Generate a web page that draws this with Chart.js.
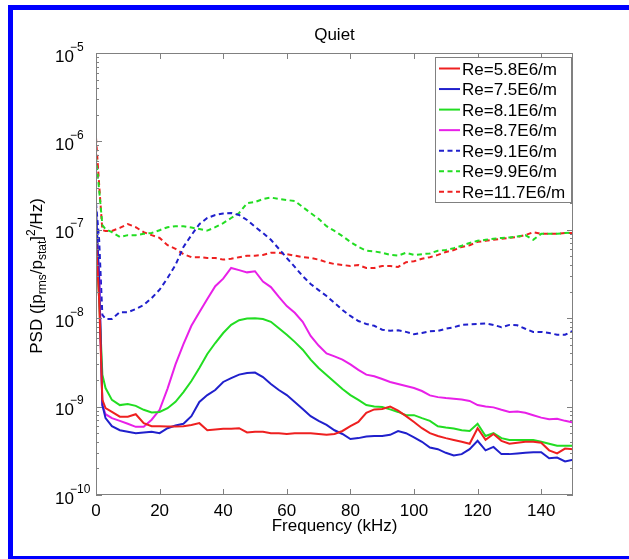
<!DOCTYPE html>
<html>
<head>
<meta charset="utf-8">
<script src="https://cdn.jsdelivr.net/npm/chart.js@4/dist/chart.umd.min.js"></script>
<style>
  html, body { margin: 0; padding: 0; background: #fff; overflow: hidden; }
  #wrap { position: relative; width: 629px; height: 559px; }
  #psd { position: absolute; left: 0; top: 0; }
  #frame {
    position: absolute; left: 8px; top: 5px; width: 700px; height: 546px;
    border-left: 5px solid #0000ff; border-top: 5px solid #0000ff; border-bottom: 3px solid #0000ff;
  }
</style>
</head>
<body>
<div id="wrap">
  <canvas id="psd" width="629" height="559"></canvas>
  <div id="frame"></div>
</div>
<script>
// frequency bins (kHz)
const freqs = [
  0, 1, 2, 3, 5, 7.5, 10, 12.5, 15, 17.5,
  20, 22.5, 25, 27.5, 30, 32.5, 35, 37.5, 40, 42.5,
  45, 47.5, 50, 52.5, 55, 57.5, 60, 62.5, 65, 67.5,
  70, 72.5, 75, 77.5, 80, 82.5, 85, 87.5, 90, 92.5,
  95, 97.5, 100, 102.5, 105, 107.5, 110, 112.5, 115, 117.5,
  120, 122.5, 125, 127.5, 130, 132.5, 135, 137.5, 140, 142.5,
  145, 147.5, 150
];

// PSD, ([p_rms/p_stat]^2/Hz)
const re58 = [
  7.7e-8, 1.6e-8, 1.19e-9, 9.6e-10, 8.7e-10, 7.7e-10, 7.7e-10, 8.2e-10, 6.5e-10, 6.0e-10,
  6.0e-10, 5.95e-10, 5.95e-10, 6.0e-10, 6.2e-10, 6.5e-10, 5.4e-10, 5.5e-10, 5.6e-10, 5.6e-10,
  5.7e-10, 5.1e-10, 5.2e-10, 5.2e-10, 5.0e-10, 5.0e-10, 4.9e-10, 5.0e-10, 5.0e-10, 5.0e-10,
  4.9e-10, 4.8e-10, 4.9e-10, 5.3e-10, 6.0e-10, 6.7e-10, 8.5e-10, 9.3e-10, 9.4e-10, 1.0e-9,
  9.0e-10, 7.8e-10, 6.7e-10, 5.7e-10, 5.0e-10, 4.65e-10, 4.4e-10, 4.2e-10, 4.0e-10, 3.8e-10,
  5.7e-10, 4.2e-10, 4.9e-10, 4.1e-10, 3.8e-10, 3.9e-10, 4.0e-10, 4.0e-10, 3.9e-10, 3.2e-10,
  2.95e-10, 3.35e-10, 3.3e-10
];
const re75 = [
  1.8e-7, 2.7e-8, 1.04e-9, 7.4e-10, 6.0e-10, 5.4e-10, 5.2e-10, 5.0e-10, 5.1e-10, 5.2e-10,
  5.0e-10, 5.7e-10, 6.1e-10, 6.4e-10, 7.8e-10, 1.13e-9, 1.35e-9, 1.54e-9, 1.9e-9, 2.1e-9,
  2.3e-9, 2.4e-9, 2.43e-9, 2.16e-9, 1.8e-9, 1.54e-9, 1.35e-9, 1.13e-9, 9.4e-10, 7.8e-10,
  6.9e-10, 6.2e-10, 5.4e-10, 4.9e-10, 4.3e-10, 4.4e-10, 4.6e-10, 4.65e-10, 4.65e-10, 4.8e-10,
  5.3e-10, 5.0e-10, 4.5e-10, 4.0e-10, 3.45e-10, 3.3e-10, 3.0e-10, 2.8e-10, 2.9e-10, 3.3e-10,
  4.1e-10, 3.2e-10, 3.5e-10, 2.9e-10, 2.9e-10, 2.95e-10, 3.0e-10, 3.05e-10, 3.05e-10, 2.6e-10,
  2.65e-10, 2.4e-10, 2.5e-10
];
const re81 = [
  8.0e-8, 1.6e-8, 2.3e-9, 1.62e-9, 1.19e-9, 1.04e-9, 1.07e-9, 1.02e-9, 9.2e-10, 8.6e-10,
  8.7e-10, 9.6e-10, 1.13e-9, 1.46e-9, 1.95e-9, 2.73e-9, 3.94e-9, 5.24e-9, 6.8e-9, 8.4e-9,
  9.5e-9, 9.9e-9, 1.0e-8, 9.8e-9, 9.1e-9, 7.7e-9, 6.5e-9, 5.4e-9, 4.4e-9, 3.4e-9,
  2.73e-9, 2.28e-9, 1.9e-9, 1.58e-9, 1.35e-9, 1.19e-9, 1.04e-9, 1.0e-9, 9.9e-10, 9.3e-10,
  8.7e-10, 8.0e-10, 8.0e-10, 7.4e-10, 6.9e-10, 6.0e-10, 5.8e-10, 5.65e-10, 5.4e-10, 5.3e-10,
  6.4e-10, 4.65e-10, 5.0e-10, 4.4e-10, 4.2e-10, 4.2e-10, 4.2e-10, 4.2e-10, 4.0e-10, 3.8e-10,
  3.6e-10, 3.6e-10, 3.6e-10
];
const re87 = [
  1.0e-7, 3.0e-8, 1.04e-9, 8.2e-10, 7.4e-10, 6.9e-10, 6.4e-10, 5.9e-10, 5.9e-10, 7.1e-10,
  9.2e-10, 1.6e-9, 3.0e-9, 5.1e-9, 8.2e-9, 1.17e-8, 1.65e-8, 2.3e-8, 2.8e-8, 3.7e-8,
  3.5e-8, 3.3e-8, 3.4e-8, 2.6e-8, 2.25e-8, 1.74e-8, 1.37e-8, 1.15e-8, 9.1e-9, 6.3e-9,
  4.9e-9, 4.0e-9, 3.7e-9, 3.4e-9, 3.0e-9, 2.6e-9, 2.3e-9, 2.2e-9, 2.05e-9, 1.9e-9,
  1.8e-9, 1.71e-9, 1.62e-9, 1.5e-9, 1.34e-9, 1.28e-9, 1.25e-9, 1.23e-9, 1.2e-9, 1.16e-9,
  1.04e-9, 1.0e-9, 9.8e-10, 9.2e-10, 8.7e-10, 8.8e-10, 8.5e-10, 8.0e-10, 7.5e-10, 7.2e-10,
  7.3e-10, 6.9e-10, 6.6e-10
];
const re91 = [
  2.0e-7, 7.6e-8, 1.09e-8, 9.8e-9, 9.8e-9, 1.17e-8, 1.17e-8, 1.27e-8, 1.41e-8, 1.69e-8,
  2.1e-8, 2.85e-8, 4.0e-8, 6.4e-8, 8.7e-8, 1.16e-7, 1.36e-7, 1.47e-7, 1.53e-7, 1.55e-7,
  1.47e-7, 1.29e-7, 1.08e-7, 9.2e-8, 7.7e-8, 6.1e-8, 4.8e-8, 3.8e-8, 3.0e-8, 2.44e-8,
  2.08e-8, 1.78e-8, 1.49e-8, 1.24e-8, 1.06e-8, 9.3e-9, 8.6e-9, 8.2e-9, 7.4e-9, 7.2e-9,
  7.3e-9, 7.0e-9, 6.6e-9, 6.8e-9, 7.1e-9, 7.2e-9, 7.6e-9, 7.9e-9, 8.4e-9, 8.5e-9,
  8.6e-9, 8.7e-9, 8.4e-9, 7.9e-9, 8.4e-9, 8.3e-9, 7.6e-9, 7.0e-9, 7.0e-9, 6.8e-9,
  6.5e-9, 6.5e-9, 7.2e-9
];
const re99 = [
  6.7e-7, 2.8e-7, 1.13e-7, 1.02e-7, 9.4e-8, 8.3e-8, 8.7e-8, 8.7e-8, 9.0e-8, 9.2e-8,
  9.9e-8, 1.07e-7, 1.1e-7, 1.1e-7, 1.06e-7, 1.02e-7, 9.8e-8, 1.07e-7, 1.19e-7, 1.36e-7,
  1.55e-7, 2.0e-7, 2.06e-7, 2.23e-7, 2.32e-7, 2.23e-7, 2.17e-7, 2.12e-7, 1.81e-7, 1.55e-7,
  1.33e-7, 1.1e-7, 9.7e-8, 8.5e-8, 7.3e-8, 6.4e-8, 5.8e-8, 5.7e-8, 5.5e-8, 5.2e-8,
  5.1e-8, 5.5e-8, 5.2e-8, 5.3e-8, 5.4e-8, 5.8e-8, 5.9e-8, 6.2e-8, 6.6e-8, 7.1e-8,
  7.5e-8, 7.7e-8, 7.9e-8, 8.1e-8, 8.2e-8, 8.4e-8, 8.7e-8, 7.7e-8, 9.0e-8, 9.0e-8,
  9.0e-8, 9.2e-8, 9.3e-8
];
const re117 = [
  1.1e-6, 3.2e-7, 9.9e-8, 9.7e-8, 9.7e-8, 1.05e-7, 1.16e-7, 1.07e-7, 9.4e-8, 8.7e-8,
  8.1e-8, 6.7e-8, 6.1e-8, 5.3e-8, 4.9e-8, 4.9e-8, 4.8e-8, 4.8e-8, 4.6e-8, 4.7e-8,
  4.9e-8, 5.1e-8, 5.1e-8, 5.2e-8, 5.5e-8, 5.5e-8, 5.3e-8, 5.1e-8, 4.9e-8, 4.8e-8,
  4.6e-8, 4.3e-8, 4.1e-8, 4.0e-8, 3.9e-8, 4.0e-8, 3.7e-8, 3.7e-8, 3.9e-8, 3.9e-8,
  3.8e-8, 4.3e-8, 4.4e-8, 4.7e-8, 4.9e-8, 5.2e-8, 5.6e-8, 5.9e-8, 6.4e-8, 6.7e-8,
  7.3e-8, 7.5e-8, 7.7e-8, 7.9e-8, 8.1e-8, 8.3e-8, 8.7e-8, 9.4e-8, 9.0e-8, 9.0e-8,
  9.0e-8, 9.2e-8, 9.2e-8
];

const seriesLabels = ['Re=5.8E6/m', 'Re=7.5E6/m', 'Re=8.1E6/m', 'Re=8.7E6/m',
                      'Re=9.1E6/m', 'Re=9.9E6/m', 'Re=11.7E6/m'];
const xTicks = [0, 20, 40, 60, 80, 100, 120, 140];
const yExponents = [-10, -9, -8, -7, -6, -5];

const FONT = '"Liberation Sans", Arial, Helvetica, sans-serif';
const GRAY = '#808080';
const RED = '#ee2020', BLUE = '#2020cc', GREEN = '#22dd22', MAGENTA = '#e820e8';
const DASH = [5, 3.5];

function series(label, values, color, dashed) {
  return {
    label,
    data: freqs.map((f, i) => ({ x: f, y: values[i] })),
    borderColor: color,
    borderWidth: 2,
    borderDash: dashed ? DASH : [],
    pointRadius: 0,
    fill: false
  };
}

// draw text runs along a baseline; each run is [text, size, shift]
function drawRuns(ctx, runs, x0, y0) {
  let x = x0;
  runs.forEach(([t, size, dy]) => {
    ctx.font = size + 'px ' + FONT;
    ctx.fillText(t, x, y0 + dy);
    x += ctx.measureText(t).width;
  });
}
function runsWidth(ctx, runs) {
  return runs.reduce((w, [t, size]) => {
    ctx.font = size + 'px ' + FONT;
    return w + ctx.measureText(t).width;
  }, 0);
}

// MATLAB-style frame: box, inward ticks, power-of-ten labels, titles, legend
const matlabFrame = {
  id: 'matlabFrame',
  afterDatasetsDraw(chart) {
    const ctx = chart.ctx, a = chart.chartArea;
    const xs = chart.scales.x, ys = chart.scales.y;
    ctx.save();

    ctx.strokeStyle = GRAY;
    ctx.lineWidth = 1;
    ctx.strokeRect(a.left + 0.5, a.top + 0.5, a.right - a.left - 1, a.bottom - a.top - 1);

    ctx.beginPath();
    xTicks.forEach(v => {
      const px = Math.round(xs.getPixelForValue(v)) + 0.5;
      ctx.moveTo(px, a.bottom); ctx.lineTo(px, a.bottom - 6);
      ctx.moveTo(px, a.top); ctx.lineTo(px, a.top + 6);
    });
    yExponents.forEach(e => {
      for (let m = 1; m <= 9; m++) {
        const v = m * Math.pow(10, e);
        if (v > 1.0001e-5) break;
        const py = Math.round(ys.getPixelForValue(v)) + 0.5;
        const len = m === 1 ? 6 : 3;
        ctx.moveTo(a.left, py); ctx.lineTo(a.left + len, py);
        ctx.moveTo(a.right, py); ctx.lineTo(a.right - len, py);
      }
    });
    ctx.stroke();

    ctx.fillStyle = '#000';
    ctx.textAlign = 'left';
    ctx.textBaseline = 'alphabetic';
    yExponents.forEach(e => {
      const py = ys.getPixelForValue(Math.pow(10, e));
      ctx.font = '17px ' + FONT;
      ctx.fillText('10', 55, py + 8.5);
      ctx.font = '12px ' + FONT;
      ctx.fillText('\u2212' + Math.abs(e), 70, py - 2.5);
    });

    // title and axis labels
    const cx = (a.left + a.right) / 2;
    ctx.textAlign = 'center';
    ctx.font = '17px ' + FONT;
    ctx.fillText('Quiet', cx, 40);
    ctx.fillText('Frequency (kHz)', cx, 531);

    const yRuns = [['PSD ([p', 17, 0], ['rms', 12, 4], ['/p', 17, 0], ['stat', 12, 4],
                   [']', 17, 0], ['2', 12, -7], ['/Hz)', 17, 0]];
    ctx.textAlign = 'left';
    ctx.save();
    ctx.translate(42, (a.top + a.bottom) / 2 + 2);
    ctx.rotate(-Math.PI / 2);
    drawRuns(ctx, yRuns, -runsWidth(ctx, yRuns) / 2, 0);
    ctx.restore();

    // legend box in the upper right corner
    const bx = 435, by = 57, bw = 136, bh = 145, row = 20.55;
    ctx.fillStyle = '#fff';
    ctx.fillRect(bx, by, bw, bh);
    ctx.strokeStyle = GRAY;
    ctx.strokeRect(bx + 0.5, by + 0.5, bw, bh);
    chart.data.datasets.forEach((ds, i) => {
      const cy = by + 11.5 + i * row;
      ctx.strokeStyle = ds.borderColor;
      ctx.lineWidth = 2;
      ctx.setLineDash(ds.borderDash || []);
      ctx.beginPath();
      ctx.moveTo(bx + 4, cy); ctx.lineTo(bx + 25, cy);
      ctx.stroke();
      ctx.setLineDash([]);
      ctx.fillStyle = '#000';
      ctx.font = '17px ' + FONT;
      ctx.fillText(ds.label, bx + 27, cy + 6);
    });
    ctx.restore();
  }
};

new Chart(document.getElementById('psd'), {
  type: 'line',
  data: {
    datasets: [
      series(seriesLabels[0], re58, RED, false),
      series(seriesLabels[1], re75, BLUE, false),
      series(seriesLabels[2], re81, GREEN, false),
      series(seriesLabels[3], re87, MAGENTA, false),
      series(seriesLabels[4], re91, BLUE, true),
      series(seriesLabels[5], re99, GREEN, true),
      series(seriesLabels[6], re117, RED, true)
    ]
  },
  options: {
    responsive: false,
    animation: false,
    devicePixelRatio: 1,
    layout: { padding: { left: 0, top: 53, right: 56, bottom: 0 } },
    elements: { line: { tension: 0 } },
    plugins: { legend: { display: false }, tooltip: { enabled: false } },
    scales: {
      x: {
        type: 'linear', min: 0, max: 150,
        afterFit: s => { s.height = 64; },
        grid: { display: false, drawTicks: false },
        border: { display: false },
        ticks: {
          stepSize: 20, includeBounds: false, autoSkip: false, maxRotation: 0,
          padding: 6, color: '#000', font: { family: FONT, size: 17 },
          callback: v => (xTicks.includes(v) ? String(v) : '')
        }
      },
      y: {
        type: 'logarithmic', min: 1e-10, max: 1e-5,
        afterFit: s => { s.width = 96; },
        grid: { display: false },
        border: { display: false },
        ticks: { display: false }
      }
    }
  },
  plugins: [matlabFrame]
});
</script>
</body>
</html>
